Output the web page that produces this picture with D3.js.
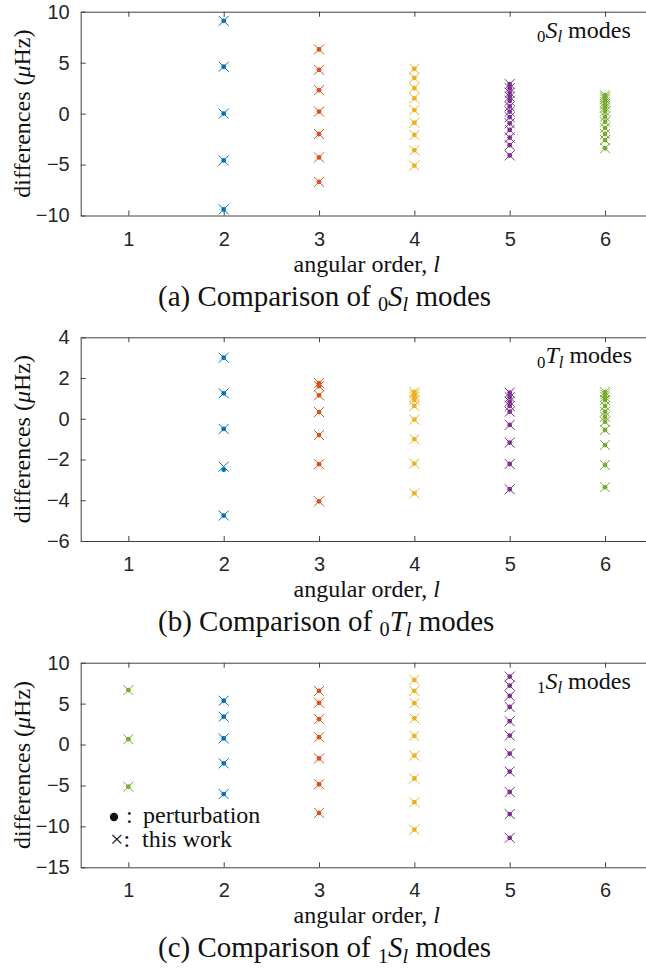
<!DOCTYPE html>
<html lang="en">
<head>
<meta charset="UTF-8" />
<title>Mode differences</title>
<script src="https://cdn.jsdelivr.net/npm/d3@7/dist/d3.min.js"></script>
<style>
  body { margin: 0; background: #fff; }
  .tick text { font-family: "Liberation Sans", Arial, sans-serif; font-size: 20px; fill: #262626; }
  .serif { font-family: "Liberation Serif", "Times New Roman", serif; fill: #111; }
</style>
</head>
<body>
<script>

// angular orders and values (microHz)
var degreesA = [2, 3, 4, 5, 6];
var colorsA = ["#0072BD", "#D95319", "#EDB120", "#7E2F8E", "#77AC30"];
var workA = [
  [9.1, 4.6, 0.0, -4.6, -9.4],
  [6.3, 4.3, 2.3, 0.2, -2.0, -4.3, -6.7],
  [4.4, 3.5, 2.5, 1.5, 0.35, -0.9, -2.1, -3.6, -5.1],
  [2.9, 2.5, 2.05, 1.65, 1.25, 0.7, 0.2, -0.35, -0.95, -1.6, -2.35, -3.1, -4.1],
  [1.8, 1.6, 1.4, 1.15, 0.9, 0.6, 0.2, -0.3, -0.8, -1.4, -2.0, -2.6, -3.4]
];
var pertA = workA;

var degreesB = [2, 3, 4, 5, 6];
var colorsB = ["#0072BD", "#D95319", "#EDB120", "#7E2F8E", "#77AC30"];
var workB = [
  [3.0, 1.25, -0.5, -2.35, -4.75],
  [1.75, 1.6, 1.15, 0.33, -0.8, -2.23, -4.05],
  [1.32, 1.2, 1.08, 0.92, 0.63, -0.04, -1.0, -2.2, -3.66],
  [1.28, 1.06, 0.84, 0.63, 0.35, -0.3, -1.17, -2.22, -3.46],
  [1.32, 1.2, 1.08, 0.92, 0.63, 0.35, 0.1, -0.14, -0.55, -1.29, -2.27, -3.36]
];
var pertB = [
  [3.0, 1.25, -0.5, -2.5, -4.75],
  [1.75, 1.6, 1.15, 0.33, -0.8, -2.23, -4.05],
  [1.32, 1.2, 1.08, 0.92, 0.63, -0.04, -1.0, -2.2, -3.66],
  [1.28, 1.06, 0.84, 0.63, 0.35, -0.3, -1.17, -2.22, -3.46],
  [1.32, 1.2, 1.08, 0.92, 0.63, 0.35, 0.1, -0.14, -0.55, -1.29, -2.27, -3.36]
];

var degreesC = [1, 2, 3, 4, 5];
var colorsC = ["#77AC30", "#0072BD", "#D95319", "#EDB120", "#7E2F8E"];
var workC = [
  [6.65, 0.65, -5.15],
  [5.35, 3.4, 0.75, -2.3, -6.05],
  [6.55, 5.1, 3.1, 0.9, -1.7, -4.85, -8.35],
  [7.9, 6.55, 5.05, 3.2, 1.05, -1.35, -4.15, -7.05, -10.4],
  [8.3, 7.2, 5.95, 4.6, 2.85, 1.1, -1.1, -3.3, -5.8, -8.5, -11.4]
];
var pertC = workC;

var xTicks = [1, 2, 3, 4, 5, 6];
var yTicksA = [-10, -5, 0, 5, 10];
var yTicksB = [-6, -4, -2, 0, 2, 4];
var yTicksC = [-15, -10, -5, 0, 5, 10];

var width = 646, height = 970;
var left = 80.7, right = 652.7;

var panels = [
  { top: 11.7, bottom: 215.5, domain: [-10, 10], ticks: yTicksA, degrees: degreesA, colors: colorsA,
    work: workA, pert: pertA, sym: "S", n: "0", letter: "a", legend: false },
  { top: 337.3, bottom: 541, domain: [-6, 4], ticks: yTicksB, degrees: degreesB, colors: colorsB,
    work: workB, pert: pertB, sym: "T", n: "0", letter: "b", legend: false },
  { top: 662.7, bottom: 867.3, domain: [-15, 10], ticks: yTicksC, degrees: degreesC, colors: colorsC,
    work: workC, pert: pertC, sym: "S", n: "1", letter: "c", legend: true }
];

var svg = d3.select("body").append("svg")
  .attr("width", width)
  .attr("height", height);

svg.append("rect").attr("width", width).attr("height", height).attr("fill", "#fff");

var xScale = d3.scaleLinear().domain([0.5, 6.5]).range([left, right]);

// little helper for "nX_l" labels
function modeLabel(text, n, sym, size, after) {
  text.append("tspan").attr("font-size", size * 0.7).attr("dy", size * 0.18).text(n);
  text.append("tspan").attr("font-style", "italic").attr("dy", -size * 0.18).text(sym);
  text.append("tspan").attr("font-style", "italic").attr("font-size", size * 0.7).attr("dy", size * 0.18).text("l");
  text.append("tspan").attr("dy", -size * 0.18).text(after);
}

panels.forEach(function(p) {
  var yScale = d3.scaleLinear().domain(p.domain).range([p.bottom, p.top]);
  var g = svg.append("g");

  // axes
  var xAxis = d3.axisBottom(xScale).tickValues(xTicks).tickFormat(d3.format("d"))
    .tickSizeInner(-5).tickSizeOuter(0).tickPadding(16);
  g.append("g").attr("transform", "translate(0," + p.bottom + ")").call(xAxis);

  var topAxis = d3.axisTop(xScale).tickValues(xTicks).tickFormat("")
    .tickSizeInner(-5).tickSizeOuter(0);
  g.append("g").attr("transform", "translate(0," + p.top + ")").call(topAxis);

  var yAxis = d3.axisLeft(yScale).tickValues(p.ticks).tickFormat(d3.format("d"))
    .tickSizeInner(-5).tickSizeOuter(0).tickPadding(11);
  g.append("g").attr("transform", "translate(" + left + ",0)").call(yAxis);

  g.selectAll(".domain, .tick line").attr("stroke", "#404040").attr("stroke-width", 1);
  g.selectAll(".tick text").attr("fill", "#262626");

  // markers
  p.degrees.forEach(function(l, i) {
    var col = p.colors[i];
    g.selectAll(null).data(p.pert[i]).enter().append("circle")
      .attr("cx", xScale(l))
      .attr("cy", function(d) { return yScale(d); })
      .attr("r", 2.4)
      .attr("fill", col);
    g.selectAll(null).data(p.work[i]).enter().append("path")
      .attr("d", function(d) {
        var cx = xScale(l), cy = yScale(d), s = 5;
        return "M" + (cx - s) + "," + (cy - s) + "L" + (cx + s) + "," + (cy + s) +
               "M" + (cx - s) + "," + (cy + s) + "L" + (cx + s) + "," + (cy - s);
      })
      .attr("stroke", col)
      .attr("stroke-width", 1)
      .attr("fill", "none");
  });

  // mode name, upper right
  var t = g.append("text").attr("class", "serif").attr("x", 537).attr("y", p.top + 26)
    .attr("font-size", 24);
  modeLabel(t, p.n, p.sym, 24, " modes");

  // axis labels
  var xl = g.append("text").attr("class", "serif").attr("x", (left + right) / 2).attr("y", p.bottom + 56)
    .attr("text-anchor", "middle").attr("font-size", 24);
  xl.append("tspan").text("angular order, ");
  xl.append("tspan").attr("font-style", "italic").text("l");

  var yl = g.append("text").attr("class", "serif")
    .attr("transform", "translate(30," + (p.top + p.bottom) / 2 + ") rotate(-90)")
    .attr("text-anchor", "middle").attr("font-size", 24);
  yl.append("tspan").text("differences (");
  yl.append("tspan").attr("font-style", "italic").text("\u03bc");
  yl.append("tspan").text("Hz)");

  // caption
  var cap = g.append("text").attr("class", "serif").attr("x", 158).attr("y", p.bottom + 90)
    .attr("font-size", 29);
  cap.append("tspan").text("(" + p.letter + ") Comparison of ");
  modeLabel(cap, p.n, p.sym, 29, " modes");

  if (p.legend) {
    var lg = g.append("g").attr("class", "serif").attr("font-size", 24);
    lg.append("circle").attr("cx", 114).attr("cy", 817).attr("r", 4.2).attr("fill", "#111");
    lg.append("text").attr("x", 126).attr("y", 823).text(":");
    lg.append("text").attr("x", 143).attr("y", 823).text("perturbation");
    lg.append("text").attr("x", 110).attr("y", 847).text("\u00d7:");
    lg.append("text").attr("x", 142).attr("y", 847).text("this work");
  }
});

</script>
</body>
</html>
